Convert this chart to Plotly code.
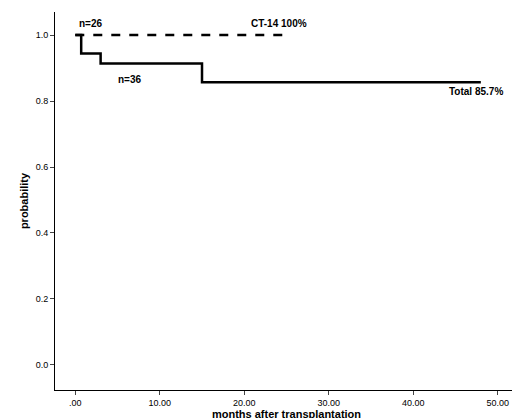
import plotly.graph_objects as go

total_x = [0, 0.7, 0.7, 3.0, 3.0, 15.0, 15.0, 48.0]
total_y = [1.0, 1.0, 0.944, 0.944, 0.914, 0.914, 0.857, 0.857]
ct_x = [0, 25.5]
ct_y = [1.0, 1.0]
tick_vals = [0, 10, 20, 30, 40, 50]
tick_text = [".00", "10.00", "20.00", "30.00", "40.00", "50.00"]

fig = go.Figure()
fig.add_trace(go.Scatter(x=ct_x, y=ct_y, mode="lines",
                         line=dict(color="black", width=2.5, dash="dash")))
fig.add_trace(go.Scatter(x=total_x, y=total_y, mode="lines",
                         line=dict(color="black", width=2.5)))

notes = [(0.2, 1.035, "n=26"), (4.8, 0.865, "n=36"),
         (20.6, 1.035, "CT-14 100%"), (44.0, 0.83, "Total 85.7%")]
for x, y, t in notes:
    fig.add_annotation(x=x, y=y, text="<b>" + t + "</b>", showarrow=False,
                       xanchor="left", yanchor="middle", font=dict(size=10))

fig.update_layout(
    width=520, height=418, showlegend=False,
    plot_bgcolor="white", paper_bgcolor="white",
    font=dict(family="Liberation Sans, Arial", size=9, color="black"),
    margin=dict(l=47, r=10, t=4, b=36),
)
fig.update_xaxes(range=[-2.4, 52.4], tickvals=tick_vals, ticktext=tick_text,
                 showgrid=False, zeroline=False, showline=True, linecolor="black",
                 ticks="outside", ticklen=4,
                 title=dict(text="<b>months after transplantation</b>", font=dict(size=11), standoff=2))
fig.update_yaxes(range=[-0.076, 1.07], tickvals=[0, 0.2, 0.4, 0.6, 0.8, 1.0],
                 ticktext=["0.0", "0.2", "0.4", "0.6", "0.8", "1.0"],
                 showgrid=False, zeroline=False, showline=True, linecolor="black",
                 ticks="outside", ticklen=4,
                 title=dict(text="<b>probability</b>", font=dict(size=11), standoff=4))

fig.write_html("out.html")
